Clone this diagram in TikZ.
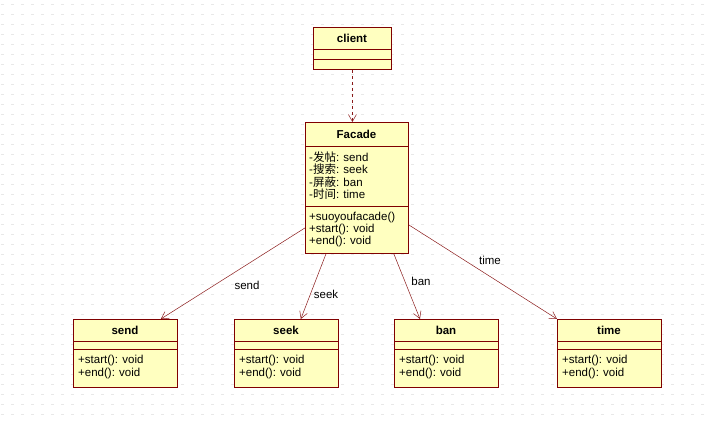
\documentclass[tikz,border=0pt]{standalone}
\usepackage{fontspec}
\setmainfont{Liberation Sans}
\newfontfamily\cjk{Noto Sans CJK SC}
\usetikzlibrary{arrows.meta}

\definecolor{umlborder}{HTML}{800000}
\definecolor{umlfill}{HTML}{FFFFC0}
\definecolor{umlarrow}{HTML}{8B1A1A}

\tikzset{
  classbox/.style={draw=umlborder, fill=umlfill, line width=0.8pt, anchor=north west, inner sep=0pt},
  sepline/.style={draw=umlborder, line width=0.8pt},
  classname/.style={font=\fontsize{11.5}{12}\selectfont\bfseries, inner sep=0pt},
  member/.style={font=\fontsize{11.5}{12}\selectfont, anchor=west, inner sep=0pt},
  assoc/.style={draw=umlarrow, line width=0.5pt, -{Straight Barb[length=7pt,width=8pt]}},
  linklabel/.style={font=\fontsize{11.5}{12}\selectfont, inner sep=0pt},
  gridline/.style={draw=black!9, line width=0.6pt, dash pattern=on 3pt off 7pt},
}

\begin{document}
\begin{tikzpicture}[x=1pt, y=-1pt]
  \useasboundingbox (0,0) rectangle (711,420);
  \fill[white] (0,0) rectangle (711,420);
  % background grid
  \foreach \y in {4,14,...,414}
    \draw[gridline] (1,\y) -- (711,\y);

  % client
  \node[classbox, minimum width=78pt, minimum height=42pt] (client) at (313,27) {};
  \node[classname] at (352,38) {client};
  \draw[sepline] (313,49) -- (391,49);
  \draw[sepline] (313,59) -- (391,59);

  % Facade
  \node[classbox, minimum width=103pt, minimum height=131pt] (facade) at (305,122) {};
  \node[classname] at (356.5,134) {Facade};
  \draw[sepline] (305,146) -- (408,146);
  \draw[sepline] (305,206) -- (408,206);
  \node[member] at (309,157) {-{\cjk 发帖}: send};
  \node[member] at (309,169.5) {-{\cjk 搜索}: seek};
  \node[member] at (309,182) {-{\cjk 屏蔽}: ban};
  \node[member] at (309,194.5) {-{\cjk 时间}: time};
  \node[member] at (309,218) {+suoyoufacade()};
  \node[member] at (309,230) {+start(): void};
  \node[member] at (309,242) {+end(): void};

  % subsystems
  \foreach \name/\x in {send/73, seek/234, ban/394, time/557} {
    \node[classbox, minimum width=104pt, minimum height=68pt] (\name) at (\x,319) {};
    \node[classname] at (\x+52,330) {\name};
    \draw[sepline] (\x,341) -- ++(104,0);
    \draw[sepline] (\x,349) -- ++(104,0);
    \node[member] at (\x+5,361) {+start(): void};
    \node[member] at (\x+5,374) {+end(): void};
  }

  % links
  \draw[assoc, dashed] (client.south) -- (client.south |- facade.north);
  \draw[assoc] ([yshift=-40pt]facade.west) -- ([xshift=-17pt]send.north east);
  \draw[assoc] ([xshift=21pt]facade.south west) -- ([xshift=-38pt]seek.north east);
  \draw[assoc] ([xshift=-15pt]facade.south east) -- ([xshift=26pt]ban.north west);
  \draw[assoc] ([yshift=-37pt]facade.east) -- (time.north west);

  \node[linklabel] at (247,285) {send};
  \node[linklabel] at (326,294) {seek};
  \node[linklabel] at (421,281) {ban};
  \node[linklabel] at (490,260) {time};
\end{tikzpicture}
\end{document}
